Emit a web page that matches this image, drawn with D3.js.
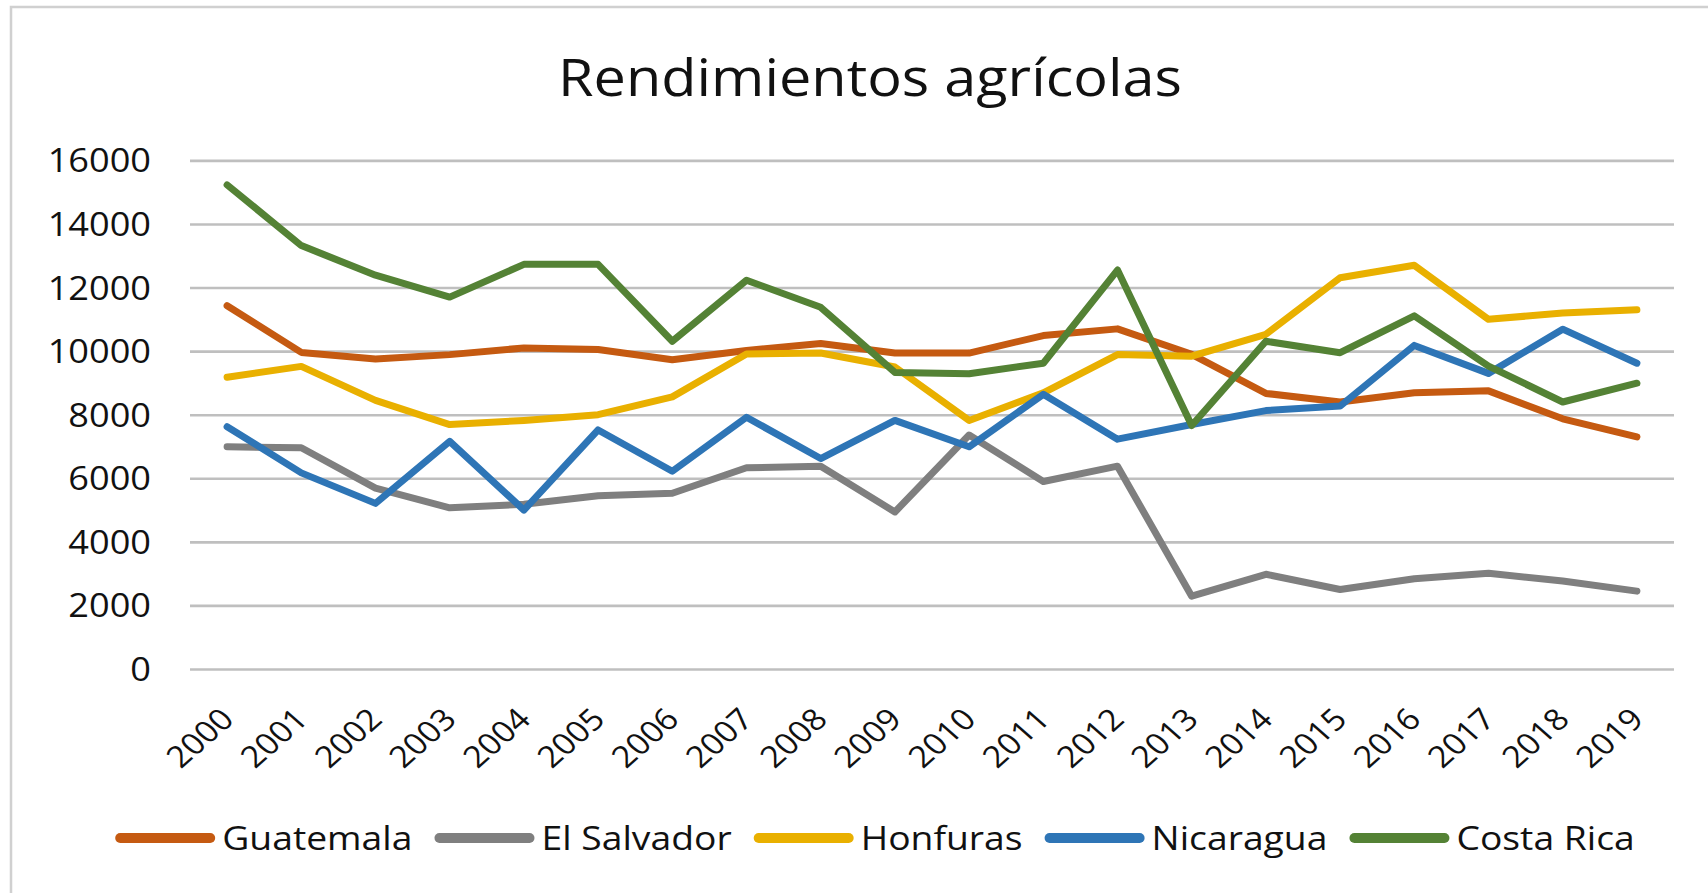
<!DOCTYPE html>
<html lang="es">
<head>
<meta charset="UTF-8">
<title>Rendimientos agrícolas</title>
<style>
  body { margin: 0; background: #fff; }
  svg { display: block; font-family: 'Open Sans', sans-serif; }
  .grid line { stroke: #bfbfbf; stroke-width: 2.6; }
  .grid .domain { display: none; }
  .series { fill: none; stroke-width: 7; stroke-linejoin: round; stroke-linecap: round; }
</style>
</head>
<body>
<div id="chart"></div>
<script src="https://d3js.org/d3.v7.min.js"></script>
<script>
// data
const years = ['2000','2001','2002','2003','2004','2005','2006','2007','2008','2009',
               '2010','2011','2012','2013','2014','2015','2016','2017','2018','2019'];
const guatemala  = [11430, 9960, 9750, 9890, 10100, 10050, 9730, 10020, 10240, 9940,
                    9940, 10490, 10700, 9900, 8670, 8400, 8690, 8750, 7870, 7300];
const elSalvador = [6990, 6960, 5690, 5070, 5180, 5450, 5530, 6330, 6380, 4940,
                    7360, 5900, 6380, 2290, 2980, 2500, 2840, 3010, 2770, 2450];
const honduras   = [9180, 9520, 8450, 7690, 7820, 8000, 8560, 9910, 9940, 9500,
                    7820, 8690, 9890, 9840, 10530, 12310, 12700, 11000, 11200, 11300];
const nicaragua  = [7620, 6170, 5210, 7160, 5000, 7520, 6220, 7920, 6620, 7820,
                    6990, 8640, 7230, 7690, 8130, 8270, 10180, 9300, 10690, 9620];
const costaRica  = [15230, 13320, 12390, 11700, 12730, 12730, 10310, 12230, 11380, 9330,
                    9290, 9620, 12550, 7660, 10310, 9950, 11110, 9530, 8400, 8990];
const seriesNames  = ['Guatemala', 'El Salvador', 'Honfuras', 'Nicaragua', 'Costa Rica'];
const seriesValues = [guatemala, elSalvador, honduras, nicaragua, costaRica];
const seriesColors = ['#c55a11', '#7f7f7f', '#e9b000', '#2e75b6', '#548235'];
const yTicks = [0, 2000, 4000, 6000, 8000, 10000, 12000, 14000, 16000];

const W = 1708, H = 893;
const plot = { left: 190, right: 1674, top: 160.4, bottom: 669 };
const stretch = 1.13; // the source image is widened horizontally

const svg = d3.select('#chart').append('svg')
  .attr('width', W).attr('height', H);

// chart area frame (only top/left edges are inside the picture)
svg.append('rect')
  .attr('x', 11).attr('y', 7)
  .attr('width', W + 20).attr('height', H + 20)
  .attr('fill', '#fff').attr('stroke', '#d0d0d0').attr('stroke-width', 2.5);

const x = d3.scalePoint().domain(years).range([plot.left, plot.right]).padding(0.5);
const y = d3.scaleLinear().domain([0, 16000]).range([plot.bottom, plot.top]);

// gridlines + y labels
const yAxis = svg.append('g')
  .attr('class', 'grid')
  .attr('transform', `translate(${plot.left},0)`)
  .call(d3.axisLeft(y).tickValues(yTicks).tickSize(-(plot.right - plot.left)).tickFormat(d3.format('d')));
yAxis.selectAll('text')
  .attr('x', 0).attr('dy', '0.36em')
  .attr('transform', `translate(-39,0) scale(${stretch},1)`)
  .attr('text-anchor', 'end')
  .style('font-size', '32px')
  .style('font-family', "'Open Sans', sans-serif")
  .attr('fill', '#111');

// x labels, rotated
const xAxis = svg.append('g')
  .attr('transform', `translate(0,${plot.bottom})`)
  .call(d3.axisBottom(x).tickSize(0));
xAxis.select('.domain').remove();
xAxis.selectAll('text')
  .attr('x', 0).attr('y', 0).attr('dy', 0)
  .attr('text-anchor', 'end')
  .attr('transform', `translate(8,52) scale(${stretch},1) rotate(-45)`)
  .style('font-size', '30px')
  .style('font-family', "'Open Sans', sans-serif")
  .attr('fill', '#111');

// lines
const line = d3.line().x((d, i) => x(years[i])).y(d => y(d));
svg.selectAll('.series')
  .data(seriesValues)
  .enter()
  .append('path')
  .attr('class', 'series')
  .attr('stroke', (d, i) => seriesColors[i])
  .attr('d', line);

// title
svg.append('text')
  .attr('transform', `translate(870,96) scale(${stretch},1)`)
  .attr('text-anchor', 'middle')
  .style('font-size', '51px')
  .attr('fill', '#111')
  .text('Rendimientos agrícolas');

// legend
const legendY = 838, swatchW = 100, textGap = 7, itemGap = 22;
const legend = svg.append('g');
const items = legend.selectAll('g')
  .data(seriesNames)
  .enter()
  .append('g');
items.append('line')
  .attr('x1', 5).attr('x2', swatchW - 5)
  .attr('y1', 0).attr('y2', 0)
  .attr('stroke', (d, i) => seriesColors[i])
  .attr('stroke-width', 10)
  .attr('stroke-linecap', 'round');
items.append('text')
  .attr('transform', `translate(${swatchW + textGap},12) scale(${stretch},1)`)
  .style('font-size', '33px')
  .attr('fill', '#111')
  .text(d => d);

let cursor = 0;
const offsets = [];
items.each(function () {
  offsets.push(cursor);
  const tw = d3.select(this).select('text').node().getComputedTextLength() * stretch;
  cursor += swatchW + textGap + tw + itemGap;
});
const total = cursor - itemGap;
const startX = 875 - total / 2;
items.attr('transform', (d, i) => `translate(${startX + offsets[i]},${legendY})`);
</script>
</body>
</html>
